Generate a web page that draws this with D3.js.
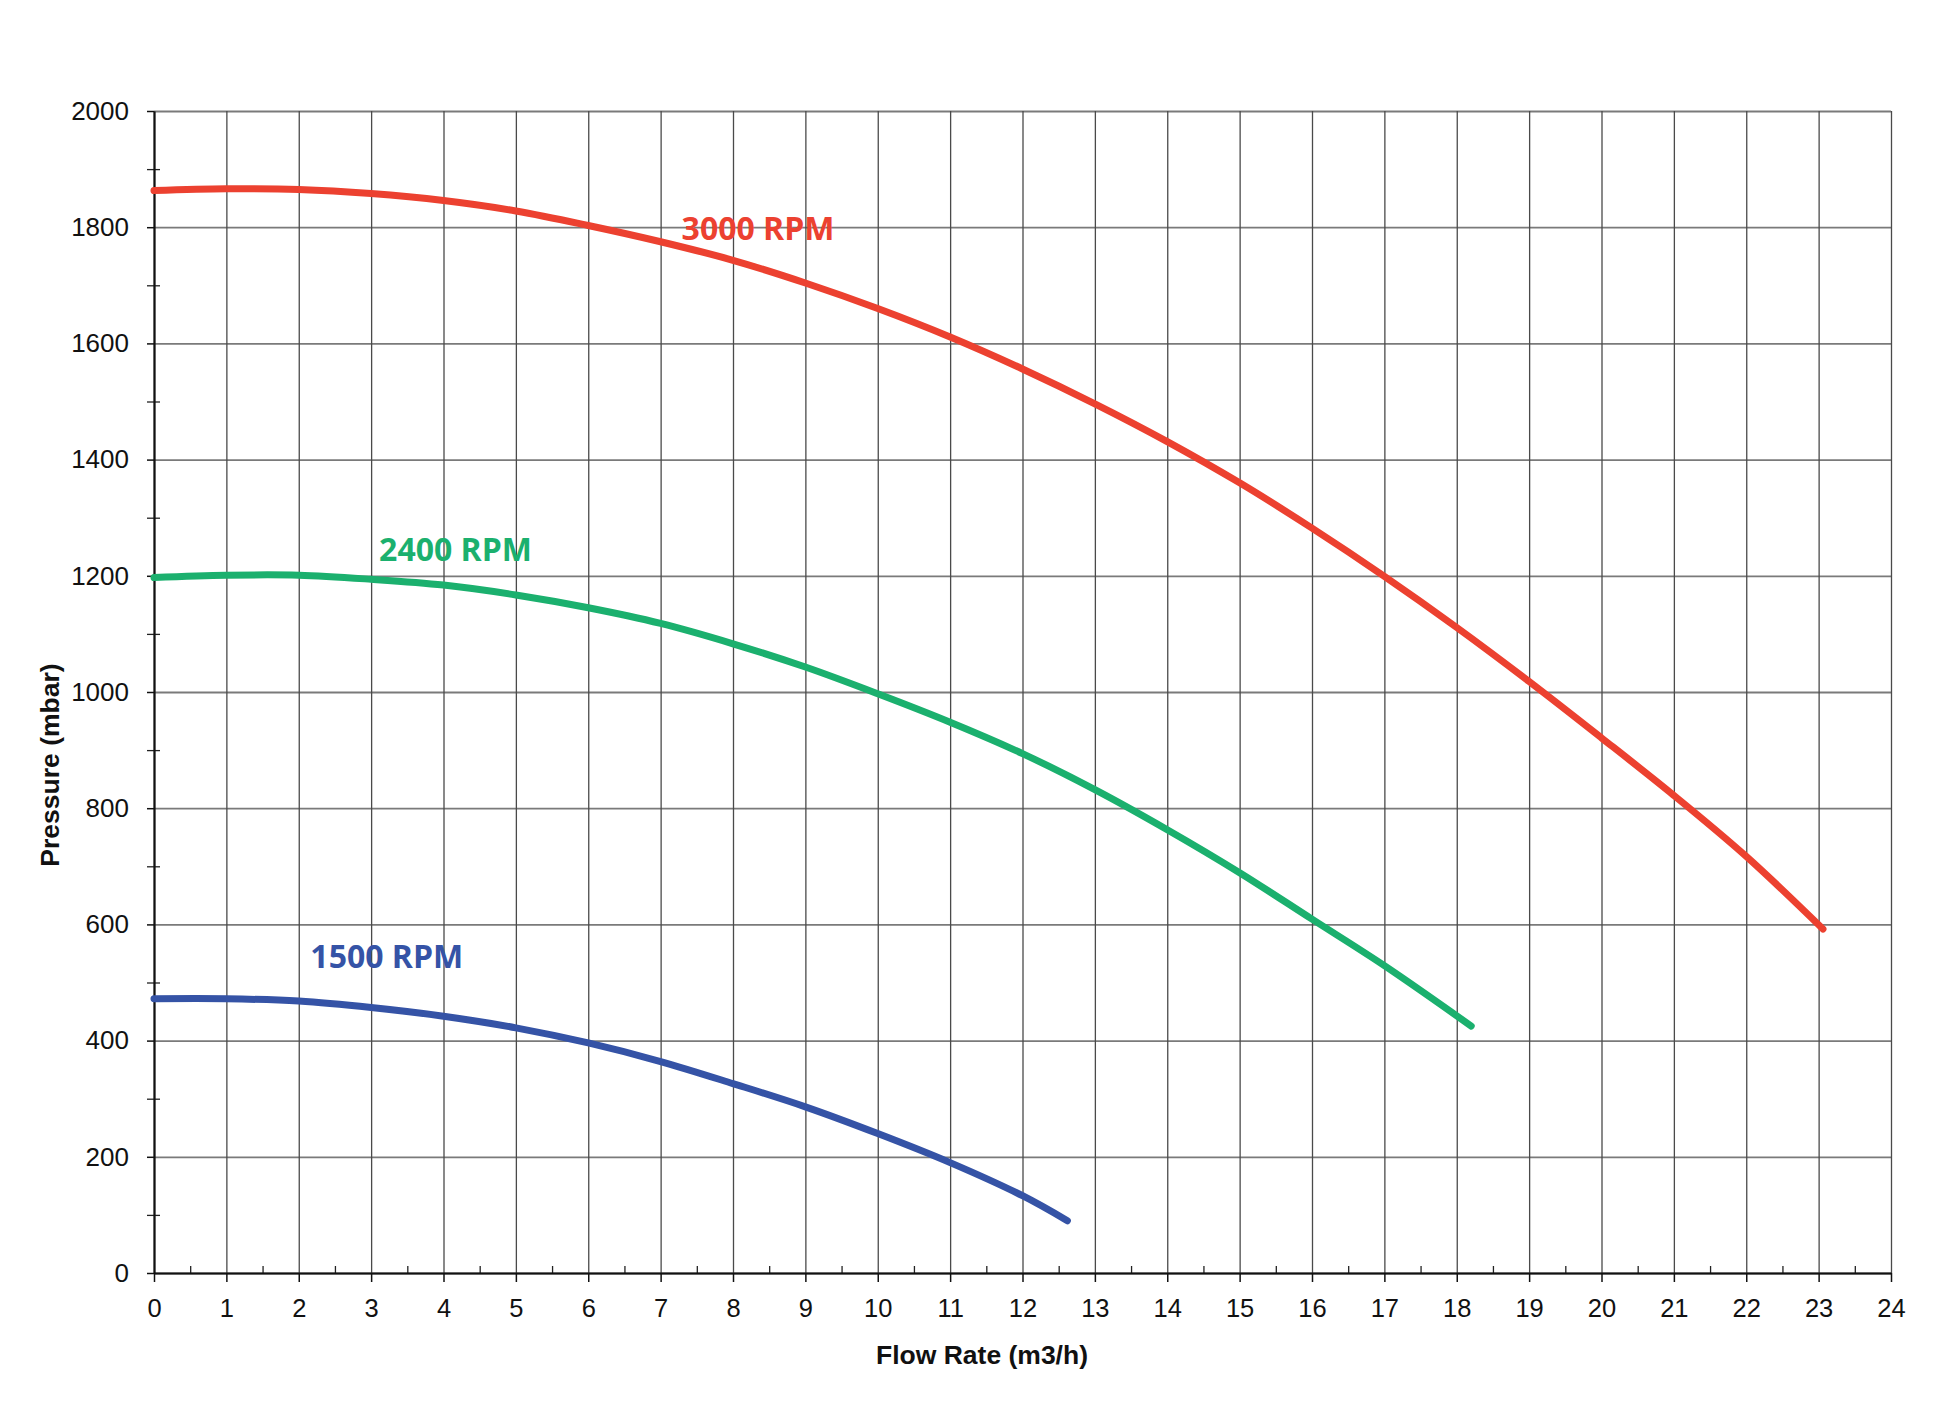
<!DOCTYPE html>
<html>
<head>
<meta charset="utf-8">
<script src="https://cdn.jsdelivr.net/npm/d3@7"></script>
<style>
  body { margin: 0; background: #fff; }
  svg { display: block; }
</style>
</head>
<body>
<script>
// flow rate (m3/h) and pressure (mbar)
var flow3000 = [0,1,2,3,4,5,6,7,8,9,10,11,12,13,14,15,16,17,18,19,20,21,22,23.06];
var pres3000 = [1863,1866,1865,1858,1846,1828,1803,1775,1743,1704,1660,1611,1556,1496,1431,1360,1282,1199,1111,1018,921,822,717,592];

var flow2400 = [0,1,2,3,4,5,6,7,8,9,10,11,12,13,14,15,16,17,18.2];
var pres2400 = [1197,1201,1201,1194,1184,1167,1145,1118,1083,1043,997,948,894,832,763,689,609,529,425];

var flow1500 = [0,1,2,3,4,5,6,7,8,9,10,11,12,12.62];
var pres1500 = [472,472,468,457,442,422,396,364,326,286,240,190,133,90];

var xTicks = d3.range(0, 25, 1);
var xMinor = d3.range(0.5, 24, 1);
var yTicks = d3.range(0, 2001, 200);
var yMinor = d3.range(100, 2000, 200);

var width = 1946, height = 1405;
var margin = {top: 111, right: 55, bottom: 132, left: 154};
var w = width - margin.left - margin.right;
var h = height - margin.top - margin.bottom;

var series = [
  {name: "3000 RPM", flow: flow3000, pres: pres3000, color: "#ec4130", lx: 7.29, ly: 1778},
  {name: "2400 RPM", flow: flow2400, pres: pres2400, color: "#1bb06e", lx: 3.11, ly: 1225},
  {name: "1500 RPM", flow: flow1500, pres: pres1500, color: "#3553a6", lx: 2.16, ly: 525}
];

var svg = d3.select("body")
  .append("svg")
  .attr("width", width)
  .attr("height", height);

var g = svg.append("g")
  .attr("transform", "translate(" + margin.left + "," + margin.top + ")");

var x = d3.scaleLinear().domain([0, 24]).range([0, w]);
var y = d3.scaleLinear().domain([0, 2000]).range([h, 0]);

// grid
g.append("g")
  .attr("class", "hgrid")
  .call(d3.axisLeft(y).tickValues(yTicks).tickSize(-w).tickFormat(""))
  .call(s => s.select(".domain").remove())
  .selectAll("line")
  .attr("stroke", "#7a7a7a")
  .attr("stroke-width", 1.8);

g.append("g")
  .attr("class", "vgrid")
  .attr("transform", "translate(0," + h + ")")
  .call(d3.axisBottom(x).tickValues(xTicks).tickSize(-h).tickFormat(""))
  .call(s => s.select(".domain").remove())
  .selectAll("line")
  .attr("stroke", "#4a4a4a")
  .attr("stroke-width", 1.3);

// minor ticks
g.append("g")
  .call(d3.axisLeft(y).tickValues(yMinor).tickSize(7).tickFormat(""))
  .call(s => s.select(".domain").remove())
  .selectAll("line")
  .attr("x1", 6)
  .attr("stroke", "#222")
  .attr("stroke-width", 1.3);

g.append("g")
  .attr("transform", "translate(0," + h + ")")
  .call(d3.axisBottom(x).tickValues(xMinor).tickSize(-7).tickFormat(""))
  .call(s => s.select(".domain").remove())
  .selectAll("line")
  .attr("stroke", "#222")
  .attr("stroke-width", 1.3);

// main axes
var yAxis = g.append("g")
  .call(d3.axisLeft(y).tickValues(yTicks).tickFormat(d3.format("d"))
    .tickSize(7).tickSizeOuter(0).tickPadding(18));
yAxis.select(".domain").attr("stroke", "#111").attr("stroke-width", 2.2);
yAxis.selectAll("line").attr("stroke", "#111").attr("stroke-width", 1.5);
yAxis.selectAll("text")
  .attr("font-family", "'Liberation Sans', Arial, sans-serif")
  .attr("font-size", 26)
  .attr("fill", "#111");

var xAxis = g.append("g")
  .attr("transform", "translate(0," + h + ")")
  .call(d3.axisBottom(x).tickValues(xTicks).tickSize(9).tickSizeOuter(0));
xAxis.select(".domain").attr("stroke", "#111").attr("stroke-width", 2.2);
xAxis.selectAll("line").attr("stroke", "#111").attr("stroke-width", 1.5);
xAxis.selectAll("text")
  .attr("y", 44)
  .attr("dy", 0)
  .attr("font-family", "'Liberation Sans', Arial, sans-serif")
  .attr("font-size", 25.5)
  .attr("fill", "#111");

// curves
var line = d3.line()
  .x(d => x(d[0]))
  .y(d => y(d[1]))
  .curve(d3.curveCatmullRom.alpha(0.5));

g.selectAll("path.curve")
  .data(series)
  .enter()
  .append("path")
  .attr("class", "curve")
  .attr("d", d => line(d3.zip(d.flow, d.pres)))
  .attr("fill", "none")
  .attr("stroke", d => d.color)
  .attr("stroke-width", 7)
  .attr("stroke-linecap", "round");

g.selectAll("text.rpm")
  .data(series)
  .enter()
  .append("text")
  .attr("class", "rpm")
  .attr("x", d => x(d.lx))
  .attr("y", d => y(d.ly))
  .attr("font-family", "'Open Sans', 'Noto Sans', sans-serif")
  .attr("font-weight", 700)
  .attr("font-size", 32)
  .attr("fill", d => d.color)
  .text(d => d.name);

// axis titles
svg.append("text")
  .attr("transform", "translate(59,765) rotate(-90)")
  .attr("text-anchor", "middle")
  .attr("font-family", "'Liberation Sans', Arial, sans-serif")
  .attr("font-weight", "bold")
  .attr("font-size", 26.5)
  .attr("fill", "#111")
  .text("Pressure (mbar)");

svg.append("text")
  .attr("x", 982)
  .attr("y", 1364)
  .attr("text-anchor", "middle")
  .attr("font-family", "'Liberation Sans', Arial, sans-serif")
  .attr("font-weight", "bold")
  .attr("font-size", 26.5)
  .attr("fill", "#111")
  .text("Flow Rate (m3/h)");
</script>
</body>
</html>
